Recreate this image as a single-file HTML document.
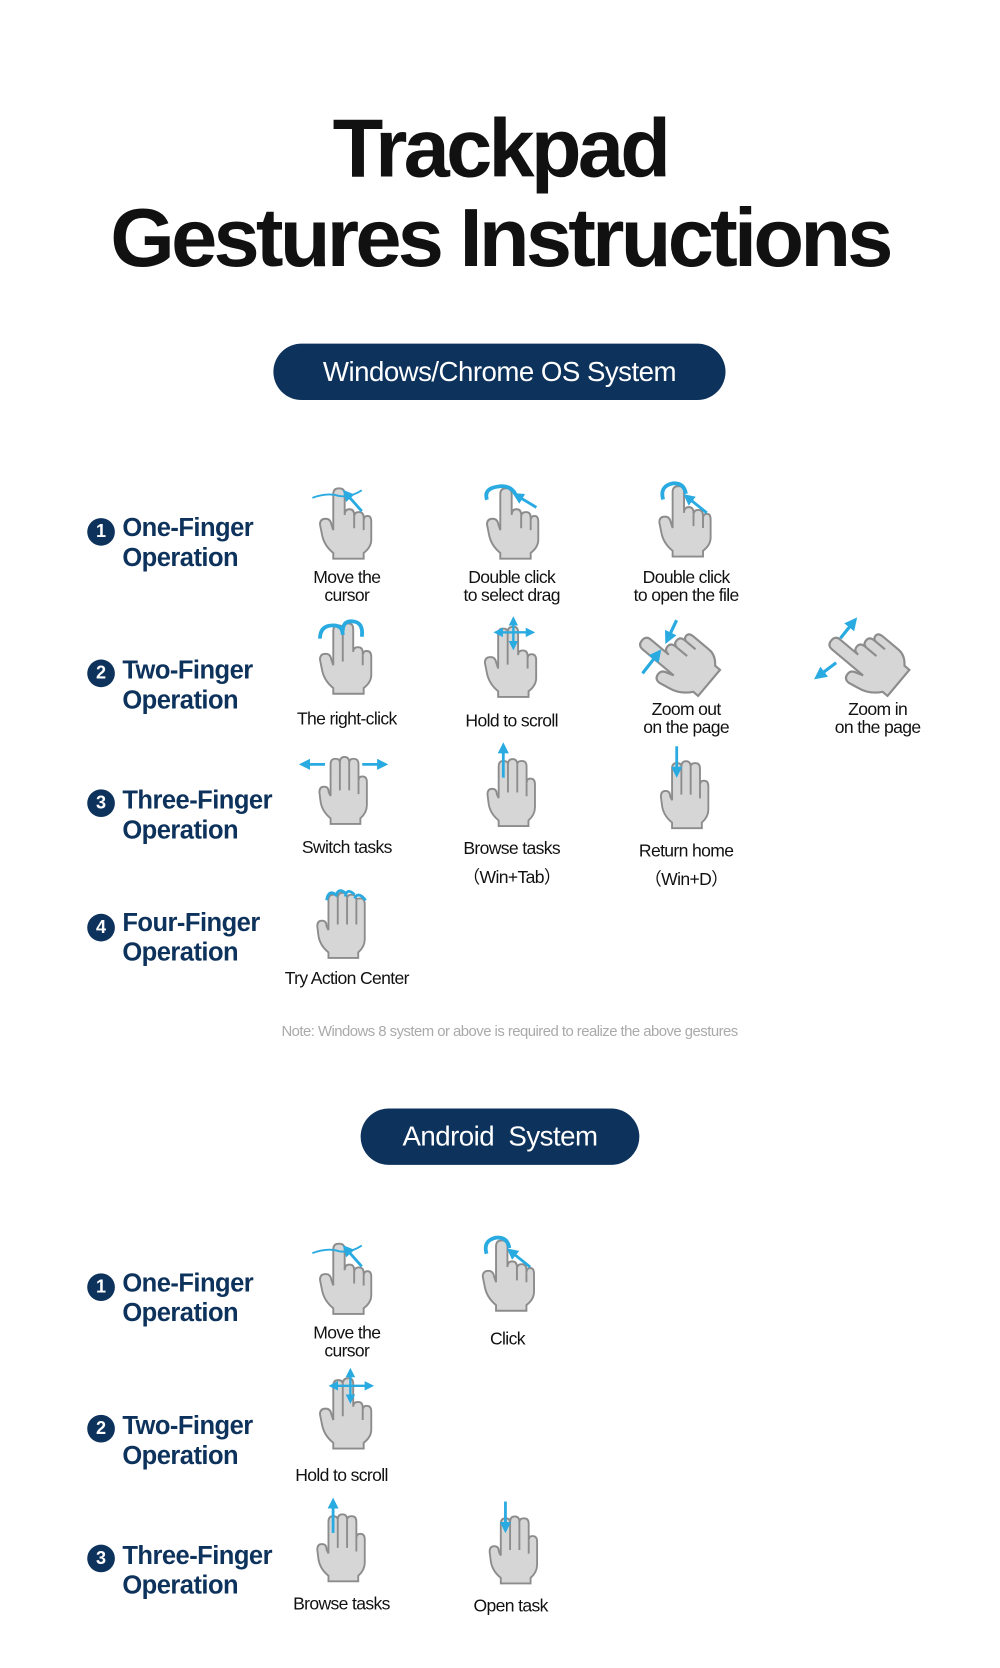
<!DOCTYPE html>
<html><head><meta charset="utf-8"><style>
html,body{margin:0;padding:0;background:#fff;}
body{width:1000px;height:1668px;overflow:hidden;position:relative;font-family:"Liberation Sans",sans-serif;}
#w{position:absolute;left:0;top:0;width:940px;height:1568px;transform:scale(1.0638);transform-origin:0 0;}
.t{position:absolute;white-space:nowrap;}
.title{left:0;width:940px;text-align:center;font-weight:bold;color:#111;font-size:78px;letter-spacing:-3.5px;line-height:1;}
.pill{position:absolute;background:#0d325c;color:#fff;border-radius:28px;text-align:center;font-size:26px;letter-spacing:-0.5px;}
.sec{position:absolute;color:#0d325c;font-weight:bold;font-size:24px;line-height:28px;letter-spacing:-0.5px;}
.num{position:absolute;width:26px;height:26px;border-radius:50%;background:#0d325c;color:#fff;font-size:17px;font-weight:bold;text-align:center;line-height:26px;}
.lb{position:absolute;width:160px;text-align:center;font-size:16.5px;color:#111;line-height:17px;letter-spacing:-0.6px;}
svg.h{position:absolute;overflow:visible;}
</style></head><body><div id="w">
<svg width="0" height="0" style="position:absolute">
<defs>
<marker id="ar" viewBox="0 0 10 10" refX="5" refY="5" markerWidth="4" markerHeight="4" orient="auto"><path d="M0 0L10 5L0 10z" fill="#29abe2"/></marker>
<g id="h1"><path d="M16 76L16 70Q6 62 4 50L2 40Q2 34 8 34Q13 34 14 40L16 46L16 8Q16 2 22 2Q28 2 28 8L28 30Q28 24 33 24Q38 24 38 30L38 32Q38 27 43 27Q48 27 48 33L48 36Q48 31 52 31Q56 31 56 37L56 56Q56 64 48 70L48 76Z" fill="#d6d6d6" stroke="#8c8c8c" stroke-width="2"/><path d="M38 32L38 44M48 36L48 46" stroke="#8c8c8c" stroke-width="2"/></g>
<g id="h2"><path d="M16 76L16 70Q6 62 4 50L2 40Q2 34 8 34Q13 34 14 40L16 46L16 10Q16 4 21 4Q26 4 26 8Q26 2 32 2Q37 2 37 8L37 32Q37 27 42 27Q47 27 47 33L47 36Q47 31 51 31Q56 31 56 37L56 56Q56 64 48 70L48 76Z" fill="#d6d6d6" stroke="#8c8c8c" stroke-width="2"/><path d="M26 8L26 42M47 36L47 46" stroke="#8c8c8c" stroke-width="2"/></g>
<g id="h3"><path d="M14 76L14 70Q4 62 3 50L2 42Q2 36 7 36Q12 36 12 42L14 46L14 12Q14 6 19 6Q24 6 24 10Q24 4 29 4Q34 4 34 10Q34 6 39 6Q44 6 44 12L44 30Q44 25 48 25Q53 25 53 31L53 56Q53 64 46 70L46 76Z" fill="#d6d6d6" stroke="#8c8c8c" stroke-width="2"/><path d="M24 10L24 40M34 10L34 40M44 30L44 44" stroke="#8c8c8c" stroke-width="2"/></g>
<g id="h4"><path d="M14 76L14 70Q4 62 3 50L2 42Q2 36 7 36Q12 36 12 42L14 46L14 14Q14 8 19 8Q24 8 24 12Q24 6 29 6Q34 6 34 12Q34 8 39 8Q44 8 44 14Q44 12 48 12Q53 12 53 18L53 56Q53 64 46 70L46 76Z" fill="#d6d6d6" stroke="#8c8c8c" stroke-width="2"/><path d="M24 12L24 40M34 12L34 40M44 14L44 40" stroke="#8c8c8c" stroke-width="2"/></g>
</defs></svg>

<div class="t title" style="top:100px">Trackpad</div>
<div class="t title" style="top:184px">Gestures Instructions</div>

<div class="pill" style="left:257px;top:323px;width:425px;height:53px;line-height:53px">Windows/Chrome OS System</div>

<div class="num" style="left:82px;top:487px">1</div><div class="sec" style="left:115px;top:483px">One-Finger<br>Operation</div>
<div class="num" style="left:82px;top:620px">2</div><div class="sec" style="left:115px;top:617px">Two-Finger<br>Operation</div>
<div class="num" style="left:82px;top:742px">3</div><div class="sec" style="left:115px;top:739px">Three-Finger<br>Operation</div>
<div class="num" style="left:82px;top:859px">4</div><div class="sec" style="left:115px;top:854px">Four-Finger<br>Operation</div>

<svg class="h" style="left:299px;top:457px" width="50" height="72" viewBox="0 0 56 80"><use href="#h1"/><path d="M-6 12Q10 6 22 10Q34 12 46 4" stroke="#29abe2" stroke-width="2" fill="none"/><line x1="46" y1="26" x2="30" y2="8" stroke="#29abe2" stroke-width="3" marker-end="url(#ar)"/></svg>
<div class="lb" style="left:246px;top:535px">Move the<br>cursor</div>
<svg class="h" style="left:456px;top:457px" width="50" height="72" viewBox="0 0 56 80"><use href="#h1"/><path d="M2 14Q-2 2 14 0Q26 -2 32 8" stroke="#29abe2" stroke-width="4" fill="none"/><line x1="54" y1="22" x2="34" y2="10" stroke="#29abe2" stroke-width="3" marker-end="url(#ar)"/></svg>
<div class="lb" style="left:401px;top:535px">Double click<br>to select drag</div>
<svg class="h" style="left:618px;top:455px" width="50" height="72" viewBox="0 0 56 80"><use href="#h1"/><path d="M6 16Q2 2 16 -1Q28 -2 30 10" stroke="#29abe2" stroke-width="4" fill="none"/><line x1="52" y1="30" x2="32" y2="14" stroke="#29abe2" stroke-width="3" marker-end="url(#ar)"/></svg>
<div class="lb" style="left:565px;top:535px">Double click<br>to open the file</div>

<svg class="h" style="left:299px;top:584px" width="50" height="72" viewBox="0 0 56 80"><use href="#h2"/><path d="M2 18Q2 4 16 4Q26 4 26 14M26 10Q26 -2 38 0Q48 2 46 16" stroke="#29abe2" stroke-width="4" fill="none"/></svg>
<div class="lb" style="left:246px;top:668px">The right-click</div>
<svg class="h" style="left:454px;top:587px" width="50" height="72" viewBox="0 0 56 80"><use href="#h2"/><line x1="32" y1="8" x2="32" y2="-4" stroke="#29abe2" stroke-width="2.5" marker-end="url(#ar)"/><line x1="32" y1="8" x2="32" y2="22" stroke="#29abe2" stroke-width="2.5" marker-end="url(#ar)"/><line x1="32" y1="8" x2="50" y2="8" stroke="#29abe2" stroke-width="2.5" marker-end="url(#ar)"/><line x1="32" y1="8" x2="16" y2="8" stroke="#29abe2" stroke-width="2.5" marker-end="url(#ar)"/></svg>
<div class="lb" style="left:401px;top:670px">Hold to scroll</div>

<svg class="h" style="left:604px;top:585px" width="80" height="70" viewBox="0 0 80 70"><g transform="translate(60,60) rotate(-50) scale(1.0)"><use href="#h1" transform="translate(-28,-76)"/></g><line x1="32" y1="-2" x2="24" y2="15" stroke="#29abe2" stroke-width="3" marker-end="url(#ar)"/><line x1="0" y1="48" x2="14" y2="30" stroke="#29abe2" stroke-width="3" marker-end="url(#ar)"/></svg>
<div class="lb" style="left:565px;top:659px">Zoom out<br>on the page</div>
<svg class="h" style="left:782px;top:585px" width="80" height="70" viewBox="0 0 80 70"><g transform="translate(60,60) rotate(-50) scale(1.0)"><use href="#h1" transform="translate(-28,-76)"/></g><line x1="8" y1="15" x2="20" y2="0" stroke="#29abe2" stroke-width="3" marker-end="url(#ar)"/><line x1="4" y1="38" x2="-12" y2="50" stroke="#29abe2" stroke-width="3" marker-end="url(#ar)"/></svg>
<div class="lb" style="left:745px;top:659px">Zoom in<br>on the page</div>

<svg class="h" style="left:298px;top:708px" width="50" height="70" viewBox="0 0 56 80"><use href="#h3"/><line x1="8" y1="12" x2="-14" y2="12" stroke="#29abe2" stroke-width="3" marker-end="url(#ar)"/><line x1="48" y1="12" x2="70" y2="12" stroke="#29abe2" stroke-width="3" marker-end="url(#ar)"/></svg>
<div class="lb" style="left:246px;top:789px">Switch tasks</div>
<svg class="h" style="left:456px;top:710px" width="50" height="70" viewBox="0 0 56 80"><use href="#h3"/><line x1="19" y1="24" x2="19" y2="-8" stroke="#29abe2" stroke-width="3" marker-end="url(#ar)"/></svg>
<div class="lb" style="left:401px;top:790px">Browse tasks<br><span style="line-height:36px">（Win+Tab）</span></div>
<svg class="h" style="left:619px;top:712px" width="50" height="70" viewBox="0 0 56 80"><use href="#h3"/><line x1="19" y1="-12" x2="19" y2="16" stroke="#29abe2" stroke-width="3" marker-end="url(#ar)"/></svg>
<div class="lb" style="left:565px;top:792px">Return home<br><span style="line-height:36px">（Win+D）</span></div>

<svg class="h" style="left:296px;top:834px" width="50" height="70" viewBox="0 0 56 80"><use href="#h4"/><path d="M12 14Q14 2 22 8M22 10Q24 0 32 6M32 10Q34 0 42 8M42 12Q46 4 54 14" stroke="#29abe2" stroke-width="3" fill="none"/></svg>
<div class="lb" style="left:246px;top:912px">Try Action Center</div>

<div class="t" style="left:0;width:958px;text-align:center;top:961px;font-size:14px;color:#aaa;letter-spacing:-0.5px">Note: Windows 8 system or above is required to realize the above gestures</div>

<div class="pill" style="left:339px;top:1042px;width:262px;height:53px;line-height:53px">Android&nbsp; System</div>

<div class="num" style="left:82px;top:1197px">1</div><div class="sec" style="left:115px;top:1193px">One-Finger<br>Operation</div>
<div class="num" style="left:82px;top:1330px">2</div><div class="sec" style="left:115px;top:1327px">Two-Finger<br>Operation</div>
<div class="num" style="left:82px;top:1452px">3</div><div class="sec" style="left:115px;top:1449px">Three-Finger<br>Operation</div>

<svg class="h" style="left:299px;top:1167px" width="50" height="72" viewBox="0 0 56 80"><use href="#h1"/><path d="M-6 12Q10 6 22 10Q34 12 46 4" stroke="#29abe2" stroke-width="2" fill="none"/><line x1="46" y1="26" x2="30" y2="8" stroke="#29abe2" stroke-width="3" marker-end="url(#ar)"/></svg>
<div class="lb" style="left:246px;top:1245px">Move the<br>cursor</div>
<svg class="h" style="left:452px;top:1164px" width="50" height="72" viewBox="0 0 56 80"><use href="#h1"/><path d="M6 16Q2 2 16 -1Q28 -2 30 10" stroke="#29abe2" stroke-width="4" fill="none"/><line x1="52" y1="30" x2="32" y2="14" stroke="#29abe2" stroke-width="3" marker-end="url(#ar)"/></svg>
<div class="lb" style="left:397px;top:1251px">Click</div>

<svg class="h" style="left:299px;top:1292px" width="50" height="75" viewBox="0 0 56 80"><use href="#h2"/><line x1="34" y1="10" x2="34" y2="-4" stroke="#29abe2" stroke-width="2.5" marker-end="url(#ar)"/><line x1="34" y1="10" x2="34" y2="24" stroke="#29abe2" stroke-width="2.5" marker-end="url(#ar)"/><line x1="34" y1="10" x2="54" y2="10" stroke="#29abe2" stroke-width="2.5" marker-end="url(#ar)"/><line x1="34" y1="10" x2="16" y2="10" stroke="#29abe2" stroke-width="2.5" marker-end="url(#ar)"/></svg>
<div class="lb" style="left:241px;top:1379px">Hold to scroll</div>

<svg class="h" style="left:296px;top:1420px" width="50" height="70" viewBox="0 0 56 80"><use href="#h3"/><line x1="19" y1="24" x2="19" y2="-8" stroke="#29abe2" stroke-width="3" marker-end="url(#ar)"/></svg>
<div class="lb" style="left:241px;top:1500px">Browse tasks</div>
<svg class="h" style="left:458px;top:1422px" width="50" height="70" viewBox="0 0 56 80"><use href="#h3"/><line x1="19" y1="-12" x2="19" y2="16" stroke="#29abe2" stroke-width="3" marker-end="url(#ar)"/></svg>
<div class="lb" style="left:400px;top:1502px">Open task</div>
</div></body></html>
